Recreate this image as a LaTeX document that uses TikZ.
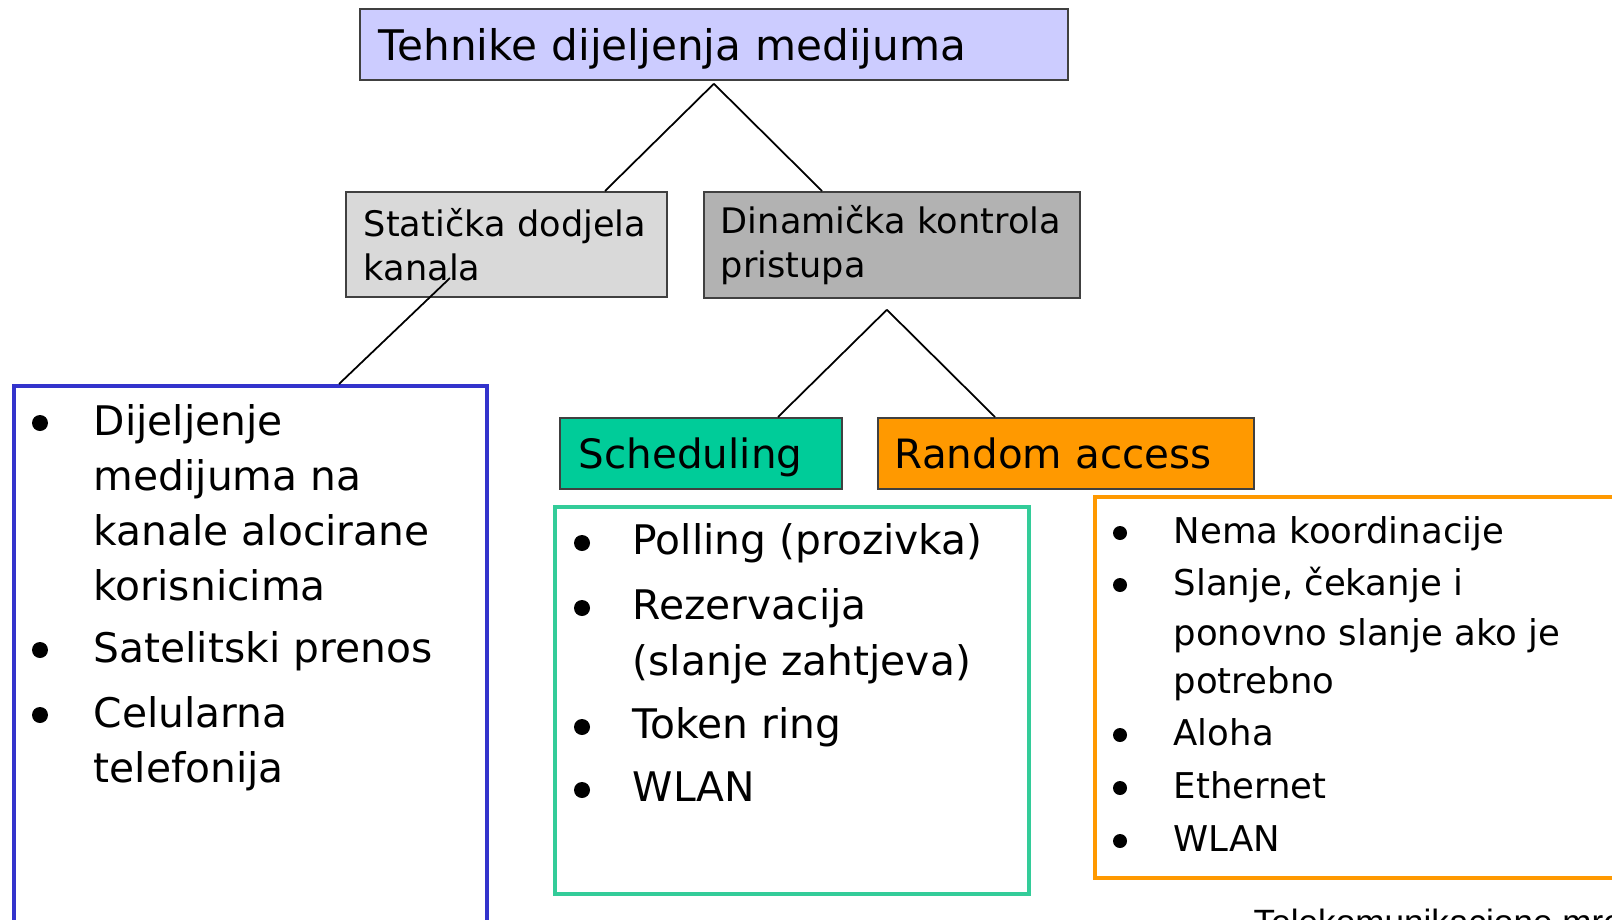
\documentclass[tikz,border=0pt]{standalone}
\usepackage{fontspec}
\setmainfont{DejaVu Sans}
\newfontfamily\footfont{Liberation Sans}
\definecolor{titlefill}{HTML}{CCCCFF}
\definecolor{staticfill}{HTML}{D9D9D9}
\definecolor{dynfill}{HTML}{B2B2B2}
\definecolor{schedfill}{HTML}{00CC99}
\definecolor{randfill}{HTML}{FF9900}
\definecolor{listblue}{HTML}{3333CC}
\definecolor{listgreen}{HTML}{33CC99}

\begin{document}
\begin{tikzpicture}[x=0.1mm,y=-0.1mm,
  box/.style={draw=black!75,line width=0.5pt,anchor=north west,align=left,inner ysep=0pt},
  conn/.style={line width=0.5pt},
  listbox/.style={line width=1.2pt,anchor=north west,inner sep=0pt},
  big/.style={font=\fontsize{11.6}{14}\selectfont,anchor=base west,inner sep=0pt},
  small/.style={font=\fontsize{10.1}{12}\selectfont,anchor=base west,inner sep=0pt}]
  \useasboundingbox (0,0) rectangle (1612,920);

  % the tree of boxes
  \node[box,fill=titlefill,minimum width=70.8mm,minimum height=7.1mm,text width=67mm,inner xsep=1.9mm,text depth=0pt,
    font=\fontsize{12}{14}\selectfont] (title) at (359,8) {Tehnike dijeljenja medijuma};
  \node[box,fill=staticfill,minimum width=32.1mm,minimum height=10.5mm,text width=28.5mm,inner xsep=1.8mm,
    font=\fontsize{10}{12.5}\selectfont] (static) at (345,191) {Statička dodjela\\kanala};
  \node[box,fill=dynfill,minimum width=37.6mm,minimum height=10.6mm,text width=34.2mm,inner xsep=1.7mm,
    font=\fontsize{10}{12.5}\selectfont] (dynamic) at (703,191) {Dinamička kontrola\\pristupa};
  \node[box,fill=schedfill,minimum width=28.2mm,minimum height=7.1mm,text width=24.4mm,inner xsep=1.9mm,text depth=0pt,
    font=\fontsize{11.5}{14}\selectfont] (sched) at (559,417) {Scheduling};
  \node[box,fill=randfill,minimum width=37.6mm,minimum height=7.1mm,text width=34.2mm,inner xsep=1.7mm,text depth=0pt,
    font=\fontsize{11.5}{14}\selectfont] (random) at (877,417) {Random access};

  % the three lists
  \node[listbox,draw=listblue,minimum width=47.3mm,minimum height=58mm] (bluelist) at (12,384) {};
  \node[listbox,draw=listgreen,minimum width=47.4mm,minimum height=38.7mm] (greenlist) at (553,505) {};
  \node[listbox,draw=randfill,minimum width=56mm,minimum height=38.1mm] (orangelist) at (1093,495) {};

  \draw[conn] ([yshift=-0.3mm]title.south) -- ([xshift=26mm]static.north west);
  \draw[conn] ([yshift=-0.3mm]title.south) -- ([xshift=11.9mm]dynamic.north west);
  \draw[conn] ([xshift=10.5mm,yshift=-8.7mm]static.north west) -- ([xshift=32.7mm]bluelist.north west);
  \draw[conn] ([xshift=-0.5mm,yshift=-1.1mm]dynamic.south) -- ([xshift=21.9mm]sched.north west);
  \draw[conn] ([xshift=-0.5mm,yshift=-1.1mm]dynamic.south) -- ([xshift=11.8mm]random.north west);

  \foreach \y/\t in {435/Dijeljenje,490/medijuma na,545/kanale alocirane,600/korisnicima,
    662/Satelitski prenos,727/Celularna,782/telefonija} {  %lines of the blue list
    \node[big] (b\y) at (93,\y) {\t};
  }
  \foreach \y in {423,650,715} \fill (40,\y) circle (0.8mm);

  \foreach \y/\t in {554/Polling (prozivka),619/Rezervacija,675/(slanje zahtjeva),738/Token ring,801/WLAN} {  %lines of the green list
    \node[big] (g\y) at (632,\y) {\t};
  }
  \foreach \y in {543,608,727,790} \fill (582,\y) circle (0.8mm);

  \foreach \y/\t in {543/Nema koordinacije,595/{Slanje, čekanje i},645/ponovno slanje ako je,693/potrebno,
    745/Aloha,798/Ethernet,851/WLAN} {  %lines of the orange list
    \node[small] (o\y) at (1173,\y) {\t};
  }
  \foreach \y in {533,585,735,788,841} \fill (1120,\y) circle (0.7mm);

  \node[anchor=base west,inner sep=0pt,font=\footfont\fontsize{10}{12}\selectfont] (foot) at (1253,934) {Telekomunikacione mreže};
\end{tikzpicture}
\end{document}
